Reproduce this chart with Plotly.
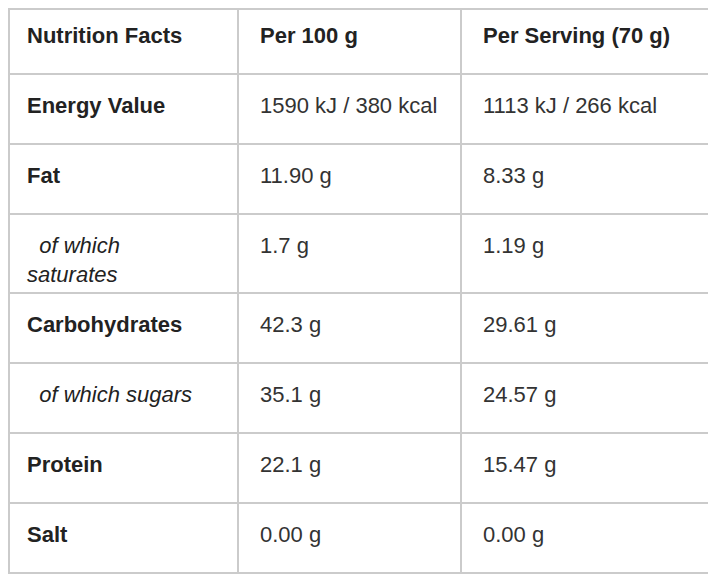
import plotly.graph_objects as go

header = ["Nutrition Facts", "Per 100 g", "Per Serving (70 g)"]

nutrients = ["Energy Value", "Fat", "of which saturates", "Carbohydrates",
             "of which sugars", "Protein", "Salt"]
sub_rows = ["of which saturates", "of which sugars"]
per_100g = ["1590 kJ / 380 kcal", "11.90 g", "1.7 g", "42.3 g",
            "35.1 g", "22.1 g", "0.00 g"]
per_serving = ["1113 kJ / 266 kcal", "8.33 g", "1.19 g", "29.61 g",
               "24.57 g", "15.47 g", "0.00 g"]

# the page body adds an 8px margin, so everything is placed in figure px
W, H = 716, 578
col_w = [229, 223, 248]
text_w = [233, 223, 248]
head_h, row_h = 65, 70
family = "Liberation Sans, Arial"
indent = "\u00a0\u00a0"
# invisible tail that makes the two-line row a bit taller
spacer = "<sub><span style='font-size:45px'>\u00a0</span></sub>"


def label(name):
    if name == "of which saturates":
        return indent + "<i>of which</i><br><i>saturates</i>" + spacer
    if name in sub_rows:
        return indent + "<i>" + name + "</i>"
    return "<b>" + name + "</b>"


def filler(name):
    # empty grid cell, same height as the text cell
    if "<br>" in label(name):
        return "\u00a0<br>\u00a0" + spacer
    return ""


def dom(x0, x1, y0, y1):
    return dict(x=[x0 / W, x1 / W], y=[1 - y1 / H, 1 - y0 / H])


clear = "rgba(0,0,0,0)"

# grid lines
grid = go.Table(
    domain=dom(1, 1 + sum(col_w), 1, H),
    columnwidth=col_w,
    header=dict(values=["", "", ""], height=head_h, fill_color="white",
                line=dict(color="#cbcbcb", width=2)),
    cells=dict(values=[[filler(n) for n in nutrients],
                       [""] * len(per_100g), [""] * len(per_serving)],
               height=row_h, align="left",
               fill_color="white", line=dict(color="#cbcbcb", width=2),
               font=dict(family=family, size=22, color=clear)),
)

# visible text, offset inside the cells
text = go.Table(
    domain=dom(11, 11 + sum(text_w), 7, H),
    columnwidth=text_w,
    header=dict(
        values=["<b>" + h + "</b>" for h in header],
        align="left", height=head_h + 1 + 11 - 7,
        fill_color=clear,
        line=dict(color=clear, width=0),
        font=dict(family=family, size=22, color="#222222"),
    ),
    cells=dict(
        values=[[label(n) for n in nutrients],
                ["<span>" + v + "</span>" for v in per_100g],
                ["<span>" + v + "</span>" for v in per_serving]],
        align="left", height=row_h,
        fill_color=clear,
        line=dict(color=clear, width=0),
        font=dict(family=family, size=22,
                  color=["#222222", "#333333", "#333333"]),
    ),
)

fig = go.Figure([grid, text])

fig.update_layout(
    width=W, height=H,
    margin=dict(l=0, r=0, t=0, b=0),
    paper_bgcolor="white",
)

fig.write_html("out.html")
